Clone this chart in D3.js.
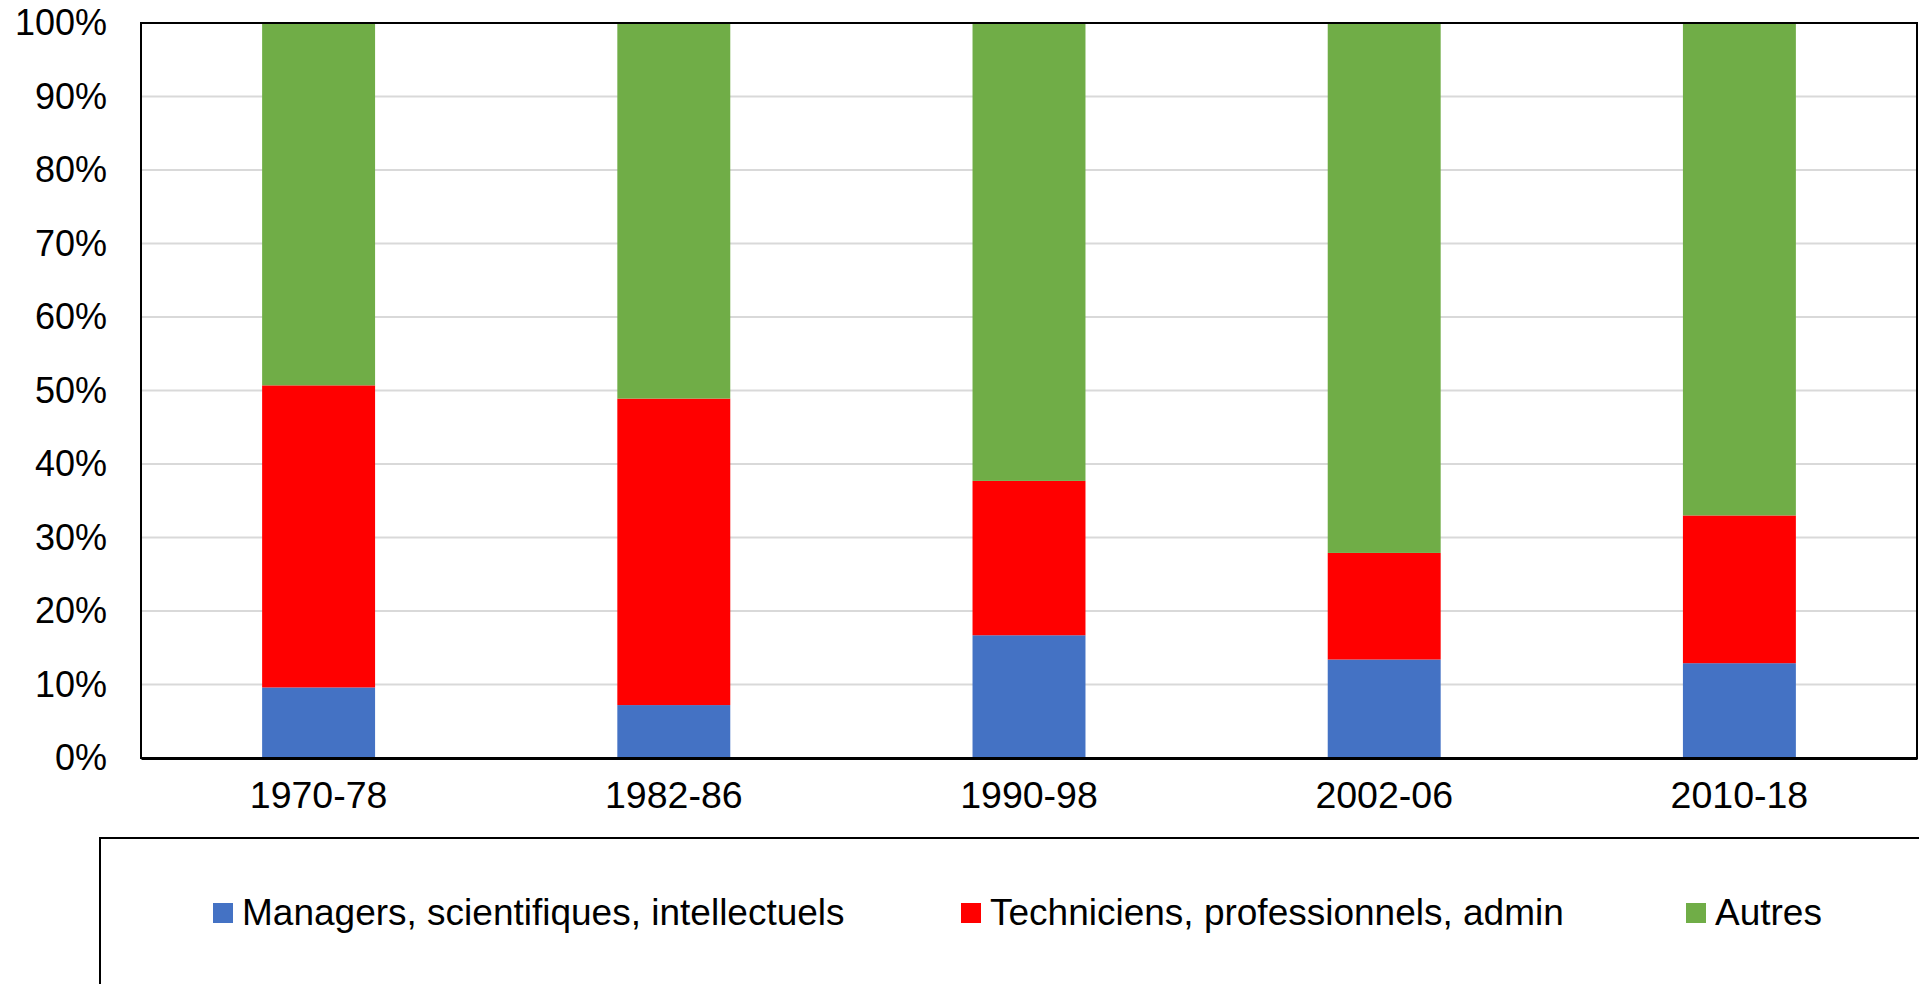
<!DOCTYPE html>
<html lang="fr">
<head>
<meta charset="utf-8">
<title>Catégories d'emplois</title>
<script src="https://d3js.org/d3.v7.min.js"></script>
<style>
  html, body { margin: 0; padding: 0; background: #fff; }
  svg { display: block; font-family: "Liberation Sans", Arial, sans-serif; }
</style>
</head>
<body>
<div id="chart"></div>
<script>
// data (percent of total)
var periods = ["1970-78", "1982-86", "1990-98", "2002-06", "2010-18"];
var managers = [9.6, 7.2, 16.7, 13.4, 12.9];
var techniciens = [41.1, 41.7, 21.0, 14.5, 20.1];
var autres = [49.3, 51.1, 62.3, 72.1, 67.0];
var seriesNames = ["Managers, scientifiques, intellectuels", "Techniciens, professionnels, admin", "Autres"];
var seriesColors = ["#4472C4", "#FF0000", "#70AD47"];
var yTicks = [0, 10, 20, 30, 40, 50, 60, 70, 80, 90, 100];

var W = 1919, H = 984;
var plot = {left: 141, top: 23, right: 1917, bottom: 758};

var svg = d3.select("#chart").append("svg")
  .attr("width", W).attr("height", H);

// rows for d3.stack
var rows = periods.map(function(p, i) {
  return {period: p, s0: managers[i], s1: techniciens[i], s2: autres[i]};
});
var stack = d3.stack().keys(["s0", "s1", "s2"]);
var layers = stack(rows);

var x = d3.scaleBand()
  .domain(periods)
  .range([plot.left, plot.right])
  .paddingInner(0.682)
  .paddingOuter(0.341);

var y = d3.scaleLinear()
  .domain([0, 100])
  .range([plot.bottom, plot.top]);

// gridlines
svg.append("g")
  .selectAll("line")
  .data(yTicks.slice(1, -1))
  .join("line")
    .attr("x1", plot.left).attr("x2", plot.right)
    .attr("y1", function(d) { return y(d); })
    .attr("y2", function(d) { return y(d); })
    .attr("stroke", "#d9d9d9")
    .attr("stroke-width", 2);

// stacked bars
svg.append("g")
  .selectAll("g")
  .data(layers)
  .join("g")
    .attr("fill", function(d, i) { return seriesColors[i]; })
  .selectAll("rect")
  .data(function(d) { return d; })
  .join("rect")
    .attr("x", function(d) { return x(d.data.period); })
    .attr("width", x.bandwidth())
    .attr("y", function(d) { return y(d[1]); })
    .attr("height", function(d) { return y(d[0]) - y(d[1]); });

// plot border
svg.append("rect")
  .attr("x", plot.left).attr("y", plot.top)
  .attr("width", plot.right - plot.left)
  .attr("height", plot.bottom - plot.top)
  .attr("fill", "none")
  .attr("stroke", "#000")
  .attr("stroke-width", 2);

// y axis labels
var yAxis = d3.axisLeft(y)
  .tickValues(yTicks)
  .tickFormat(function(d) { return d + "%"; })
  .tickSize(0)
  .tickPadding(34);
var gy = svg.append("g")
  .attr("transform", "translate(" + plot.left + ",0)")
  .call(yAxis);
gy.select(".domain").remove();
gy.selectAll("text")
  .attr("font-size", 36)
  .attr("font-family", "Liberation Sans, Arial, sans-serif")
  .attr("fill", "#000");

// x axis
var xAxis = d3.axisBottom(x).tickSize(0).tickPadding(23);
var gx = svg.append("g")
  .attr("transform", "translate(0," + plot.bottom + ")")
  .call(xAxis);
gx.select(".domain")
  .attr("stroke", "#000")
  .attr("stroke-width", 3);
gx.selectAll("text")
  .attr("font-size", 37.5)
  .attr("font-family", "Liberation Sans, Arial, sans-serif")
  .attr("fill", "#000");

// legend box (runs off the right and bottom edges)
svg.append("rect")
  .attr("x", 100).attr("y", 838)
  .attr("width", 1840).attr("height", 200)
  .attr("fill", "none")
  .attr("stroke", "#000")
  .attr("stroke-width", 2);

var legendX = [213, 961, 1686];
var legend = svg.append("g")
  .selectAll("g")
  .data(seriesNames)
  .join("g")
    .attr("transform", function(d, i) { return "translate(" + legendX[i] + ",903)"; });
legend.append("rect")
  .attr("width", 20).attr("height", 20)
  .attr("fill", function(d, i) { return seriesColors[i]; });
legend.append("text")
  .attr("x", 29).attr("y", 22)
  .attr("font-size", 37)
  .attr("fill", "#000")
  .text(function(d) { return d; });
</script>
</body>
</html>
